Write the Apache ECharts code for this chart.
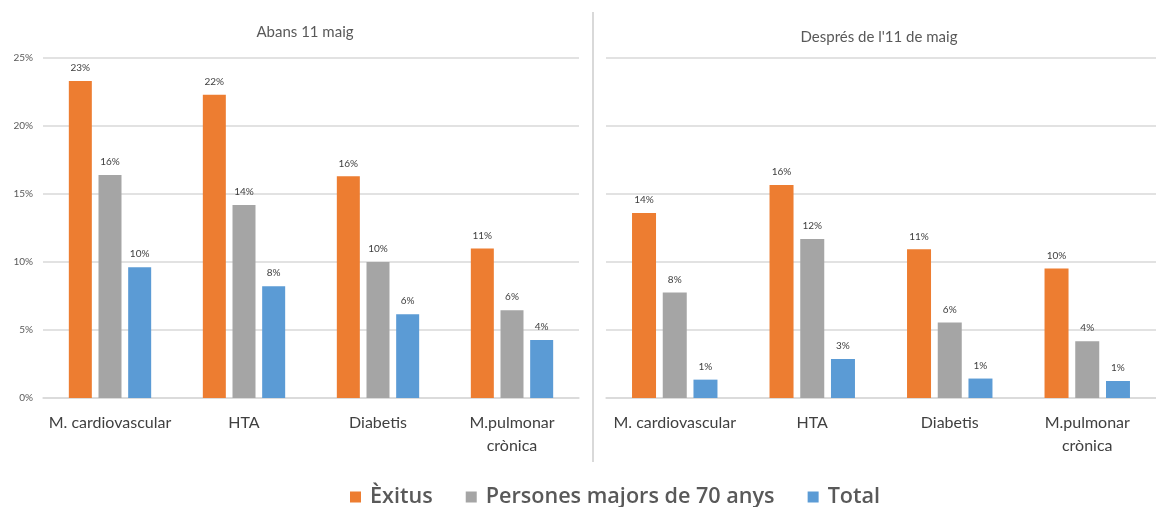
<!DOCTYPE html>
<html>
<head>
<meta charset="utf-8">
<script src="https://cdn.jsdelivr.net/npm/echarts@6/dist/echarts.min.js"></script>
<style>
  html, body { margin: 0; padding: 0; background: #fff; }
  #chart { width: 1156px; height: 507px; }
</style>
</head>
<body>
<div id="chart"></div>
<script>
const categories = ['M. cardiovascular', 'HTA', 'Diabetis', 'M.pulmonar\ncrònica'];
const seriesNames = ['Èxitus', 'Persones majors de 70 anys', 'Total'];
const panelTitles = ['Abans 11 maig', "Després de l'11 de maig"];

// before 11 May
const abansExitus = [0.233, 0.223, 0.163, 0.110];
const abansMajors70 = [0.164, 0.142, 0.100, 0.0646];
const abansTotal = [0.0962, 0.0822, 0.0616, 0.0426];

// after 11 May
const despresExitus = [0.136, 0.1566, 0.1093, 0.0953];
const despresMajors70 = [0.0776, 0.1169, 0.0555, 0.0418];
const despresTotal = [0.0135, 0.0287, 0.0143, 0.0125];

const colors = ['#ED7D31', '#A5A5A5', '#5B9BD5'];
const FONT = 'Lato, "Open Sans", sans-serif';

const chart = echarts.init(document.getElementById('chart'), null, { renderer: 'canvas' });

const pct = (v) => Math.round(v * 100) + '%';

function makeSeries(name, data, axisIndex, barWidth, barGap) {
  return {
    name: name,
    type: 'bar',
    xAxisIndex: axisIndex,
    yAxisIndex: axisIndex,
    data: data,
    barWidth: barWidth,
    barGap: barGap,
    label: {
      show: true,
      position: 'top',
      distance: 8,
      fontSize: 10,
      fontFamily: FONT,
      color: '#404040',
      formatter: (p) => pct(p.value),
    },
  };
}

function xAxis(gridIndex) {
  return {
    type: 'category',
    gridIndex: gridIndex,
    data: categories,
    axisTick: { show: false },
    axisLine: { lineStyle: { color: '#d9d9d9', width: 1.5 } },
    axisLabel: {
      fontSize: 16,
      fontFamily: FONT,
      color: '#404040',
      margin: 13,
      lineHeight: 23,
      interval: 0,
    },
  };
}

function yAxis(gridIndex, showLabels) {
  return {
    type: 'value',
    gridIndex: gridIndex,
    min: 0,
    max: 0.25,
    interval: 0.05,
    axisLine: { show: false },
    axisTick: { show: false },
    splitLine: { lineStyle: { color: '#d9d9d9', width: 1.5 } },
    axisLabel: {
      show: showLabels,
      fontSize: 10,
      fontFamily: FONT,
      color: '#595959',
      margin: 10,
      formatter: pct,
    },
  };
}

const option = {
  color: colors,
  animation: false,
  title: [
    {
      text: panelTitles[0],
      left: 300,
      top: 20,
      textAlign: 'center',
      textStyle: { fontSize: 15, fontWeight: 'normal', fontFamily: FONT, color: '#595959' },
    },
    {
      text: panelTitles[1],
      left: 874,
      top: 25,
      textAlign: 'center',
      textStyle: { fontSize: 15, fontWeight: 'normal', fontFamily: FONT, color: '#595959' },
    },
  ],
  legend: {
    data: seriesNames,
    left: 345,
    top: 481,
    icon: 'rect',
    itemWidth: 11,
    itemHeight: 11,
    itemGap: 33,
    textStyle: {
      fontSize: 21.6,
      fontWeight: 600,
      fontFamily: '"Open Sans", sans-serif',
      color: '#595959',
      padding: [0, 0, 0, 4],
    },
  },
  grid: [
    { left: 43, top: 58, width: 536, height: 340 },
    { left: 606, top: 58, width: 558, height: 340 },
  ],
  xAxis: [xAxis(0), xAxis(1)],
  yAxis: [yAxis(0, true), yAxis(1, false)],
  graphic: [
    {
      type: 'line',
      shape: { x1: 593, y1: 12, x2: 593, y2: 462 },
      style: { stroke: '#d9d9d9', lineWidth: 2 },
    },
  ],
  series: [
    makeSeries(seriesNames[0], abansExitus, 0, 23, '29%'),
    makeSeries(seriesNames[1], abansMajors70, 0, 23, '29%'),
    makeSeries(seriesNames[2], abansTotal, 0, 23, '29%'),
    makeSeries(seriesNames[0], despresExitus, 1, 24, '28%'),
    makeSeries(seriesNames[1], despresMajors70, 1, 24, '28%'),
    makeSeries(seriesNames[2], despresTotal, 1, 24, '28%'),
  ],
};

chart.setOption(option);
</script>
</body>
</html>
